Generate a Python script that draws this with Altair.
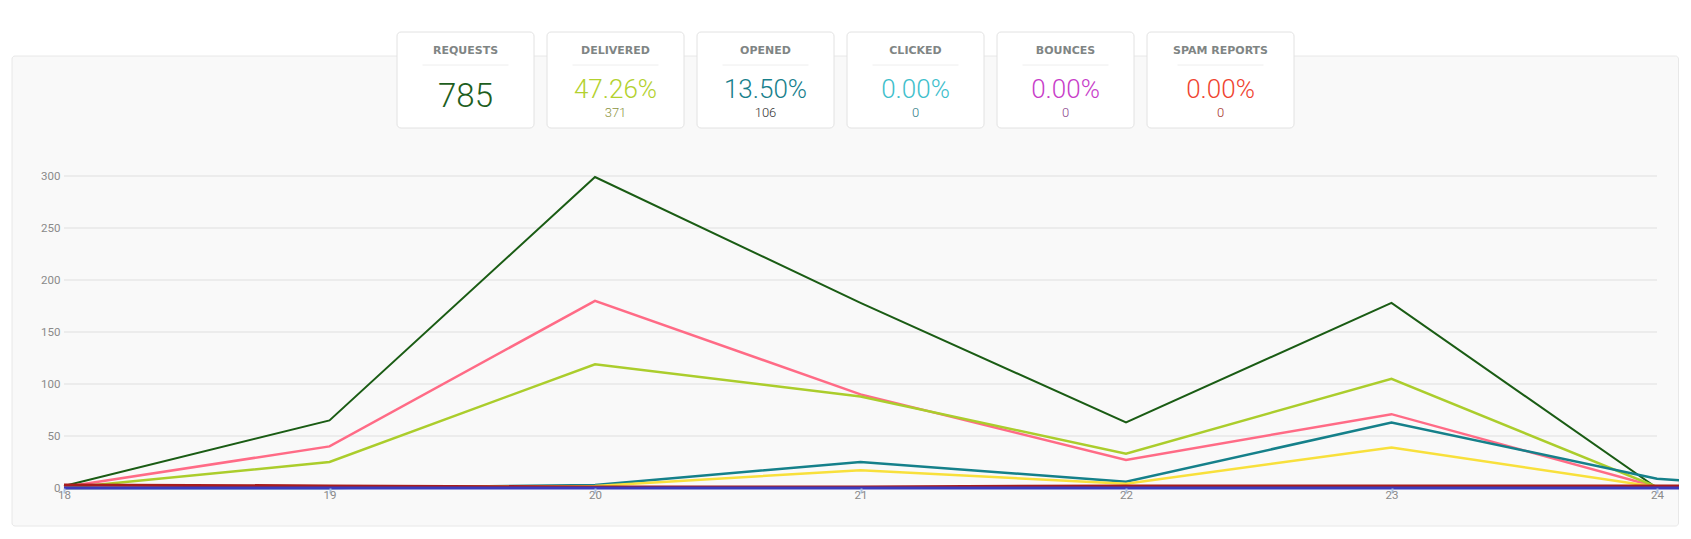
import altair as alt
import pandas as pd

# ---- data ----
days = [18, 19, 20, 21, 22, 23, 24, 24.1]
requests = [2, 65, 299, 178, 63, 178, 0, 0]
processed = [1, 40, 180, 90, 27, 71, 1, 1]
delivered = [0, 25, 119, 88, 33, 105, 1, 1]
opens = [0, 0, 3, 25, 6, 63, 9, 7]
unique_opens = [0, 1, 2, 17, 4, 39, 1, 1]
deferred = [3, 2, 1, 1, 2, 2, 2, 2]
blocks = [0, 0, 0, 0, 0, 0, 0, 0]

series_names = ["requests", "processed", "delivered", "opens", "unique_opens", "deferred", "blocks"]
series_values = [requests, processed, delivered, opens, unique_opens, deferred, blocks]
series_colors = ["#1a5c14", "#ff6b86", "#abcd2c", "#15808a", "#f8e03c", "#a81c1c", "#3b3bbd"]
series_widths = [2, 2.5, 2.5, 2.5, 2.5, 3, 3]

x_ticks = [18, 19, 20, 21, 22, 23, 24]
y_ticks = [0, 50, 100, 150, 200, 250, 300]

kpi_titles = ["REQUESTS", "DELIVERED", "OPENED", "CLICKED", "BOUNCES", "SPAM REPORTS"]
kpi_main = ["785", "47.26%", "13.50%", "0.00%", "0.00%", "0.00%"]
kpi_sub = ["", "371", "106", "0", "0", "0"]
kpi_main_colors = ["#1d5e1d", "#b3d12e", "#17808c", "#3fc0cc", "#c83dc9", "#ef4430"]
kpi_sub_colors = ["#1d5e1d", "#8c9440", "#333333", "#2d7d86", "#8b3f8b", "#a5302a"]

# ---- layout ----
W, H = 1593, 312
PAD = {"left": 56, "top": 168, "right": 22, "bottom": 39}
FONT = "Roboto"

rows = []
for name, vals, w in zip(series_names, series_values, series_widths):
    for d, v in zip(days, vals):
        rows.append({"day": d, "value": v, "series": name, "width": w})
line_df = pd.DataFrame(rows)
grid_df = pd.DataFrame({"value": y_ticks})

card_w = [137, 137, 137, 137, 137, 147]
kpi_rows = []
for i, t in enumerate(kpi_titles):
    x0 = 333 + 150 * i
    cx = x0 + card_w[i] / 2
    kpi_rows.append({
        "x0": x0, "x1": x0 + card_w[i], "cx": cx, "sl": cx - 43, "sr": cx + 43,
        "title": t, "main": kpi_main[i], "sub": kpi_sub[i],
        "mcol": kpi_main_colors[i], "scol": kpi_sub_colors[i],
    })
kpi_df = pd.DataFrame(kpi_rows)

one = pd.DataFrame({"a": [0]})

bg = alt.Chart(one).mark_rect(fill="#f9f9f9", stroke="#e8e8e8", strokeWidth=1, cornerRadius=3).encode(
    x=alt.value(-52), x2=alt.value(1614.5), y=alt.value(-120), y2=alt.value(350)
)

x_enc = alt.X("day:Q",
              scale=alt.Scale(domain=[18, 24], nice=False, zero=False),
              axis=alt.Axis(orient="bottom", values=x_ticks, format="d", title=None, grid=False,
                            domain=False, tickColor="#a9c1e2", tickSize=5, tickWidth=2,
                            labelPadding=-4, labelAlign="center", labelBaseline="top",
                            labelColor="#8a8a8a", labelFontSize=11.5, labelFont=FONT,
                            labelFlush=False, labelOverlap=False, zindex=1))
y_enc = alt.Y("value:Q", scale=alt.Scale(domain=[0, 300], nice=False),
              axis=alt.Axis(orient="left", values=y_ticks, format="d", title=None, grid=False,
                            ticks=False, domain=False, labelPadding=4, labelAlign="right",
                            labelBaseline="middle", labelColor="#8a8a8a", labelFontSize=11.5,
                            labelFont=FONT, labelFlush=False, labelOverlap=False, zindex=1))

grid = alt.Chart(grid_df).mark_rule(color="#ececec", strokeWidth=2).encode(
    y=y_enc, x=alt.value(0), x2=alt.value(W)
)

lines = alt.Chart(line_df).mark_line(clip=False, strokeJoin="miter").encode(
    x=x_enc,
    y=y_enc,
    color=alt.Color("series:N", scale=alt.Scale(domain=series_names, range=series_colors), legend=None),
    strokeWidth=alt.StrokeWidth("width:Q", scale=None),
    detail="series:N",
)

plot = alt.layer(grid, lines)

cards = alt.Chart(kpi_df).mark_rect(fill="white", stroke="#e2e2e2", strokeWidth=1, cornerRadius=4).encode(
    x=alt.X("x0:Q", scale=None), x2="x1:Q", y=alt.value(-144), y2=alt.value(-48)
)
seps = alt.Chart(kpi_df).mark_rule(color="#eeeeee", strokeWidth=1).encode(
    x=alt.X("sl:Q", scale=None), x2="sr:Q", y=alt.value(-111)
)
titles = alt.Chart(kpi_df).mark_text(font="DejaVu Sans", fontSize=11, fontWeight="bold",
                                     color="#7f8584", baseline="middle", align="center").encode(
    x=alt.X("cx:Q", scale=None), y=alt.value(-125), text="title:N"
)
mains_big = alt.Chart(kpi_df[kpi_df.index == 0]).mark_text(font=FONT, fontSize=33, fontWeight=300,
                                                           baseline="middle", align="center").encode(
    x=alt.X("cx:Q", scale=None), y=alt.value(-79), text="main:N",
    color=alt.Color("mcol:N", scale=None)
)
mains = alt.Chart(kpi_df[kpi_df.index > 0]).mark_text(font=FONT, fontSize=26, fontWeight=300,
                                                      baseline="middle", align="center").encode(
    x=alt.X("cx:Q", scale=None), y=alt.value(-86.5), text="main:N",
    color=alt.Color("mcol:N", scale=None)
)
subs = alt.Chart(kpi_df[kpi_df.index > 0]).mark_text(font=FONT, fontSize=13, fontWeight=300,
                                                     baseline="middle", align="center").encode(
    x=alt.X("cx:Q", scale=None), y=alt.value(-63), text="sub:N",
    color=alt.Color("scol:N", scale=None)
)

chart = alt.layer(bg, plot, cards, seps, titles, mains_big, mains, subs).resolve_scale(
    x="independent", y="independent", color="independent"
).properties(
    width=W, height=H,
    autosize=alt.AutoSizeParams(type="none"),
    padding=PAD,
    background="white",
).configure_view(stroke=None)

chart.save("out.html", embed_options={"renderer": "svg", "actions": False})
